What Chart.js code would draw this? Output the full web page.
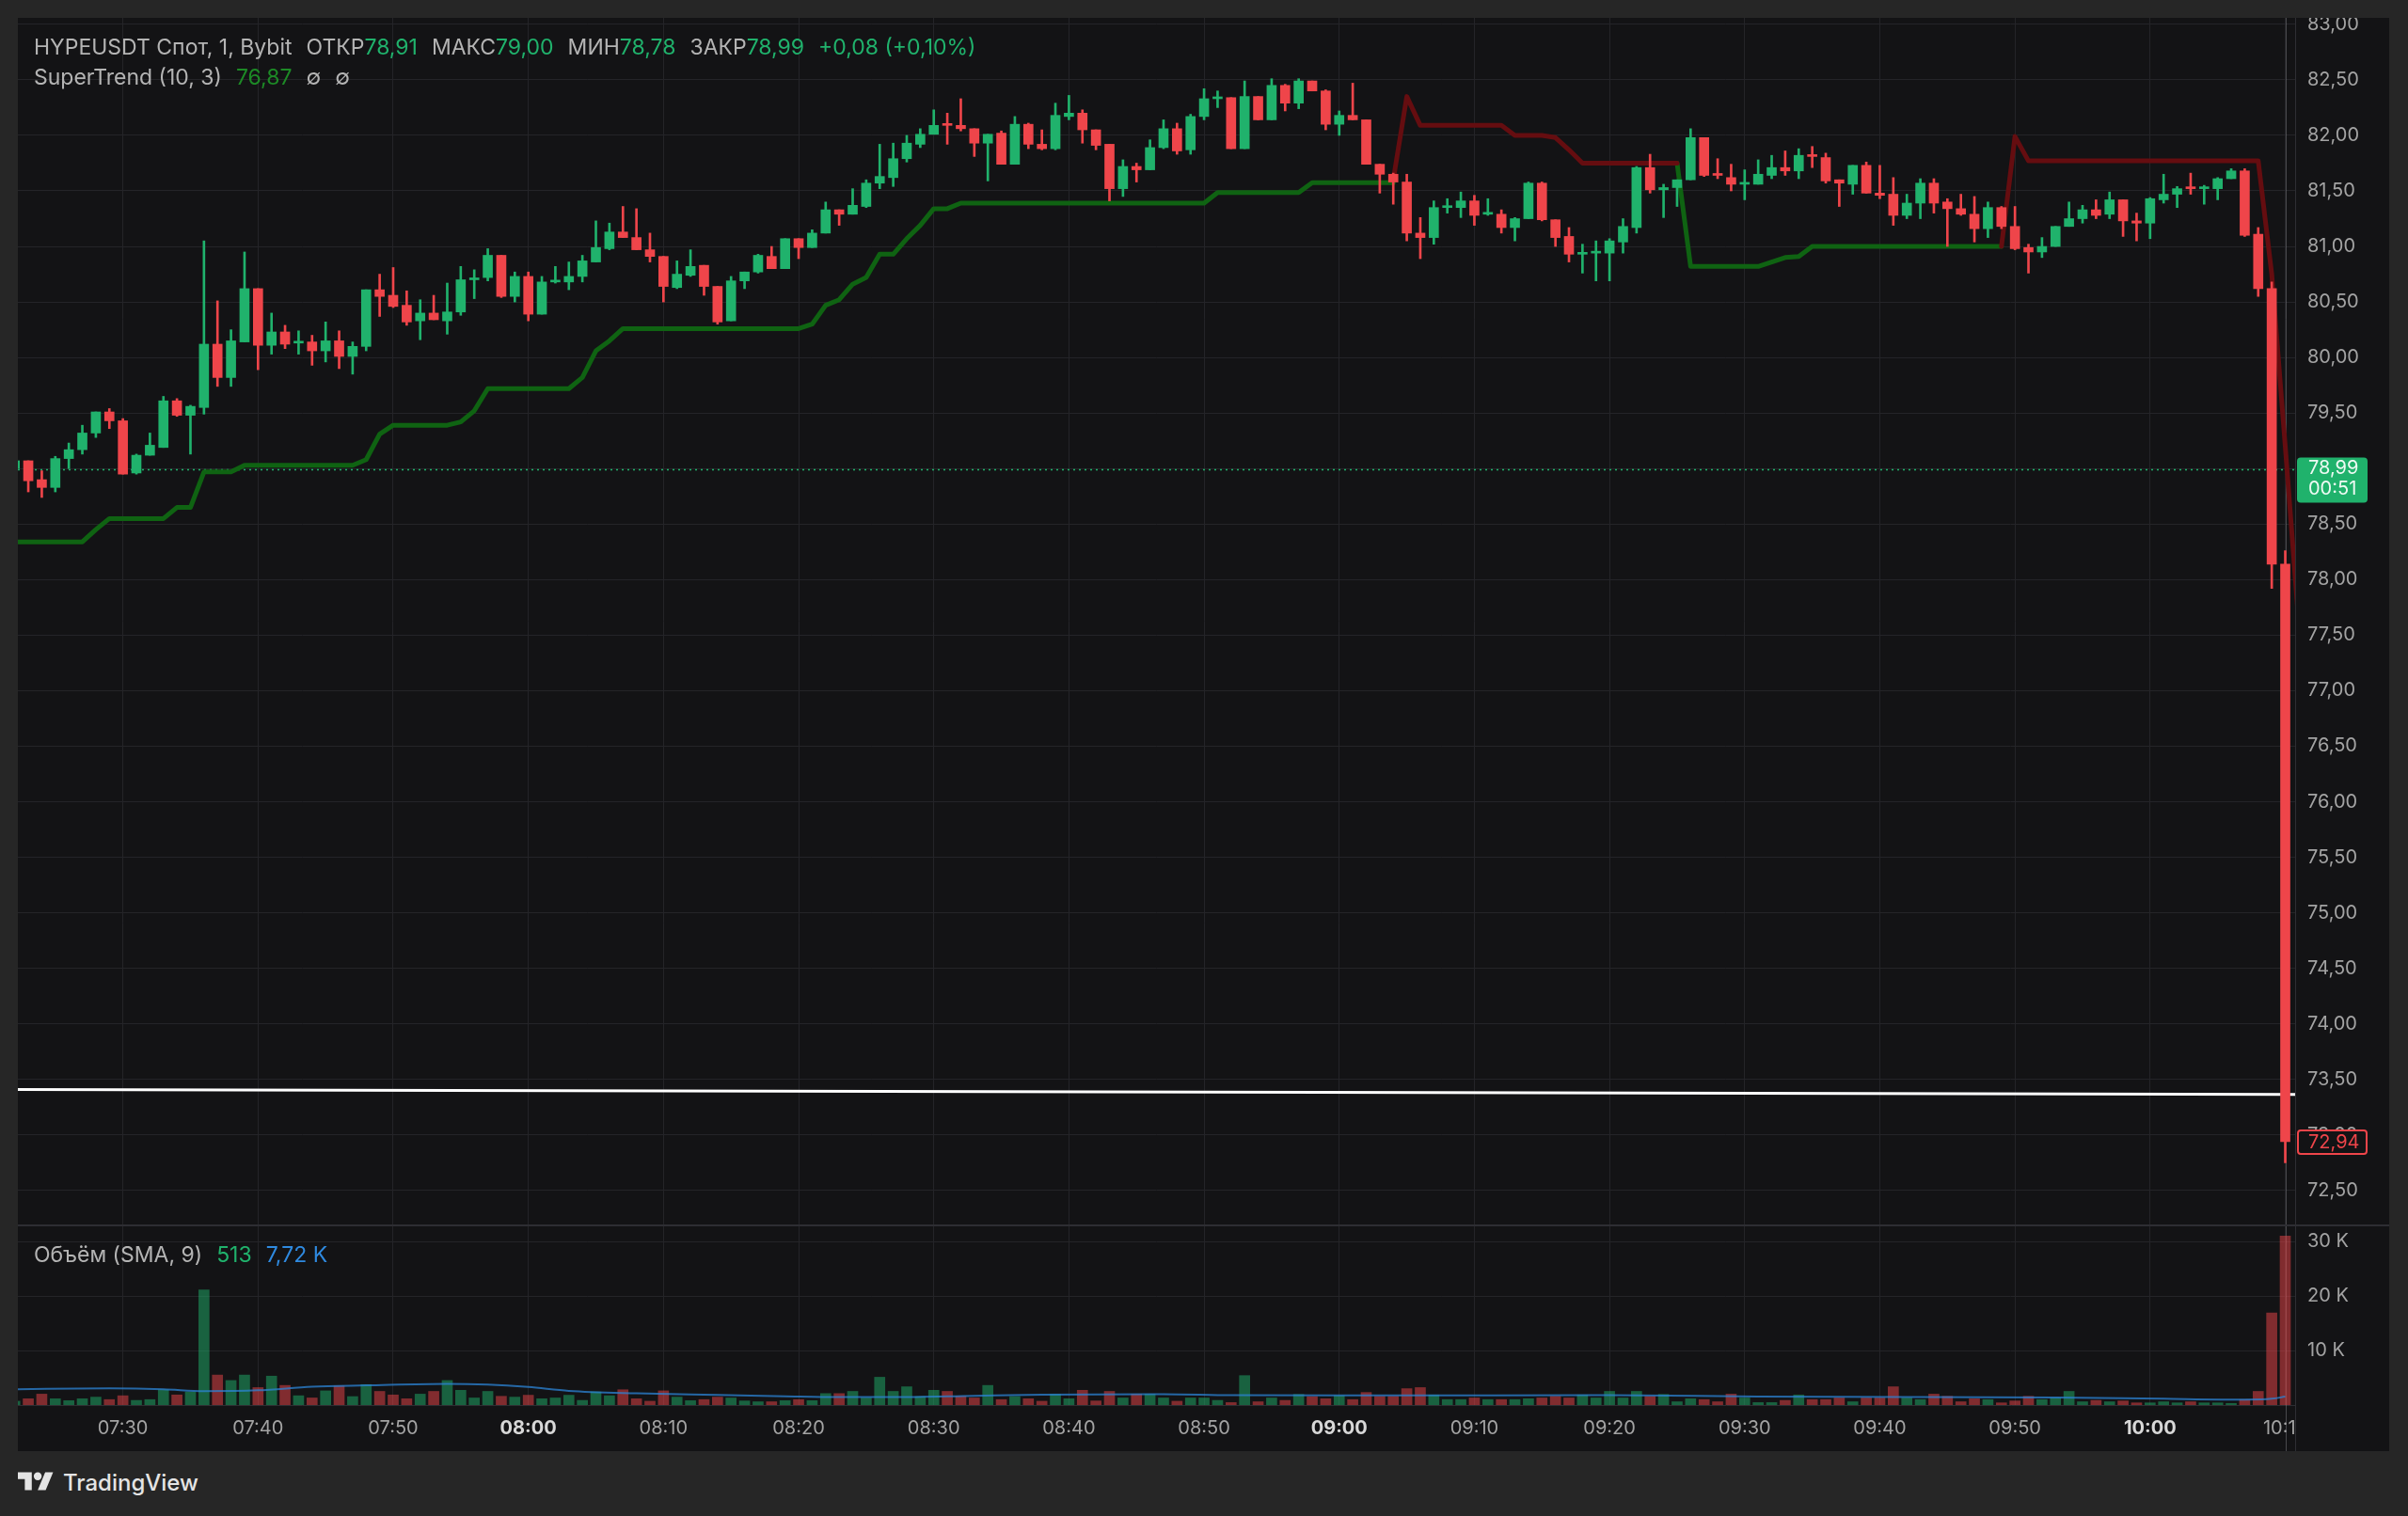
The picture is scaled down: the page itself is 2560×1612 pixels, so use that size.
<!DOCTYPE html>
<html lang="ru">
<head>
<meta charset="utf-8">
<title>HYPEUSDT</title>
<script src="https://cdn.jsdelivr.net/npm/chart.js@4.4.1/dist/chart.umd.min.js"></script>
<style>
  html, body { margin:0; padding:0; background:#262626; }
  body { width:2560px; height:1612px; position:relative; overflow:hidden; font-family: Inter, "Noto Sans", Roboto, sans-serif; }
  #panel { position:absolute; left:19px; top:19px; width:2521px; height:1524px; background:#131315; }
  canvas { position:absolute; display:block; }
  #cPrice { left:19px; top:19px; width:2521px; height:1283px; }
  #cVol { left:19px; top:1302px; width:2521px; height:241px; }
  .lg { position:absolute; left:36px; font-size:23px; line-height:26px; color:#b4b4b4; white-space:pre; }
  .lg span { display:inline-block; }
  .g { color:#20b26c; }
  .dg { color:#1d8a26; }
  .bl { color:#2f8ae0; }
  .sp { margin-left:15px; }
  #brand { position:absolute; left:19px; top:1561px; height:30px; display:flex; align-items:center; color:#e4e4e4; font-size:24px; font-weight:500; }
  #brand svg { margin-right:10px; }
</style>
</head>
<body>
<div id="panel"></div>
<canvas id="cPrice" width="2521" height="1283"></canvas>
<canvas id="cVol" width="2521" height="241"></canvas>
<div class="lg" id="lg1" style="top:37px"></div>
<div class="lg" id="lg2" style="top:69px"></div>
<div class="lg" id="lg3" style="top:1321px"></div>
<div id="brand"><svg width="38" height="30" viewBox="0 0 36 28"><path fill="#e4e4e4" d="M14 22H7V11H0V4h14v18zM28 22h-8l7.5-18h8L28 22z"/><circle fill="#e4e4e4" cx="20" cy="8" r="4"/></svg><span>TradingView</span></div>
<script>
// ---------------- DATA ----------------
const times = [
'07:22','07:23','07:24','07:25','07:26','07:27','07:28','07:29','07:30','07:31',
'07:32','07:33','07:34','07:35','07:36','07:37','07:38','07:39','07:40','07:41',
'07:42','07:43','07:44','07:45','07:46','07:47','07:48','07:49','07:50','07:51',
'07:52','07:53','07:54','07:55','07:56','07:57','07:58','07:59','08:00','08:01',
'08:02','08:03','08:04','08:05','08:06','08:07','08:08','08:09','08:10','08:11',
'08:12','08:13','08:14','08:15','08:16','08:17','08:18','08:19','08:20','08:21',
'08:22','08:23','08:24','08:25','08:26','08:27','08:28','08:29','08:30','08:31',
'08:32','08:33','08:34','08:35','08:36','08:37','08:38','08:39','08:40','08:41',
'08:42','08:43','08:44','08:45','08:46','08:47','08:48','08:49','08:50','08:51',
'08:52','08:53','08:54','08:55','08:56','08:57','08:58','08:59','09:00','09:01',
'09:02','09:03','09:04','09:05','09:06','09:07','09:08','09:09','09:10','09:11',
'09:12','09:13','09:14','09:15','09:16','09:17','09:18','09:19','09:20','09:21',
'09:22','09:23','09:24','09:25','09:26','09:27','09:28','09:29','09:30','09:31',
'09:32','09:33','09:34','09:35','09:36','09:37','09:38','09:39','09:40','09:41',
'09:42','09:43','09:44','09:45','09:46','09:47','09:48','09:49','09:50','09:51',
'09:52','09:53','09:54','09:55','09:56','09:57','09:58','09:59','10:00','10:01',
'10:02','10:03','10:04','10:05','10:06','10:07','10:08','10:09','10:10'];

const opens = [
79.00,79.07,78.90,78.83,79.09,79.17,79.32,79.51,79.43,78.96,
79.12,79.19,79.61,79.48,79.55,80.12,79.82,80.14,80.62,80.11,
80.23,80.13,80.14,80.06,80.15,80.01,80.10,80.61,80.56,80.47,
80.33,80.40,80.33,80.41,80.70,80.72,80.92,80.55,80.73,80.39,
80.68,80.68,80.73,80.86,80.98,81.13,81.08,80.97,80.91,80.63,
80.74,80.83,80.64,80.33,80.69,80.77,80.91,80.80,81.07,80.99,
81.12,81.33,81.29,81.36,81.57,81.62,81.79,81.92,82.01,82.10,
82.09,82.06,81.93,82.02,81.74,82.10,81.92,81.88,82.17,82.20,
82.05,81.92,81.52,81.72,81.69,81.89,82.06,81.87,82.17,82.33,
82.34,81.88,82.35,82.14,82.45,82.29,82.49,82.40,82.10,82.18,
82.14,81.74,81.65,81.58,81.12,81.08,81.35,81.35,81.41,81.29,
81.29,81.17,81.25,81.57,81.24,81.09,80.93,80.94,80.94,81.04,
81.17,81.71,81.51,81.53,81.60,81.98,81.65,81.62,81.56,81.56,
81.64,81.71,81.68,81.82,81.80,81.60,81.56,81.73,81.48,81.47,
81.28,81.39,81.57,81.40,81.34,81.29,81.16,81.35,81.18,80.99,
80.95,81.00,81.18,81.25,81.33,81.29,81.42,81.23,81.21,81.42,
81.47,81.53,81.52,81.52,81.61,81.68,81.11,80.62,78.14];

const highs = [
79.09,79.07,78.98,79.11,79.23,79.39,79.51,79.54,79.45,79.13,
79.32,79.65,79.63,79.57,81.05,80.51,80.25,80.95,80.62,80.40,
80.29,80.24,80.20,80.32,80.24,80.14,80.61,80.75,80.81,80.60,
80.52,80.56,80.67,80.82,80.79,80.98,80.92,80.77,80.77,80.73,
80.82,80.86,80.92,81.23,81.21,81.36,81.34,81.12,80.91,80.87,
80.97,80.83,80.64,80.73,80.77,80.93,81.00,81.07,81.07,81.15,
81.40,81.33,81.52,81.60,81.92,81.93,82.00,82.06,82.23,82.20,
82.33,82.06,82.01,82.04,82.17,82.11,82.05,82.29,82.36,82.23,
82.05,81.92,81.78,81.75,81.96,82.14,82.11,82.19,82.42,82.40,
82.34,82.49,82.35,82.51,82.46,82.51,82.49,82.41,82.22,82.47,
82.14,81.74,81.66,81.65,81.26,81.41,81.43,81.49,81.46,81.43,
81.33,81.26,81.58,81.58,81.24,81.17,81.02,81.05,81.07,81.25,
81.72,81.83,81.56,81.60,82.06,81.98,81.79,81.74,81.69,81.78,
81.82,81.86,81.88,81.90,81.84,81.60,81.73,81.76,81.73,81.62,
81.47,81.61,81.61,81.43,81.47,81.45,81.40,81.36,81.36,81.02,
81.08,81.18,81.40,81.37,81.42,81.49,81.42,81.30,81.44,81.65,
81.54,81.66,81.55,81.62,81.70,81.70,81.17,80.68,78.26];

const lows = [
78.98,78.79,78.74,78.79,79.00,79.13,79.28,79.36,78.95,78.95,
79.12,79.19,79.47,79.13,79.49,79.74,79.74,80.14,79.89,80.03,
80.08,80.03,79.93,79.96,79.90,79.85,80.06,80.37,80.45,80.29,
80.16,80.34,80.21,80.38,80.53,80.69,80.54,80.50,80.33,80.39,
80.67,80.61,80.68,80.86,80.97,81.08,80.97,80.86,80.50,80.62,
80.73,80.56,80.30,80.33,80.62,80.76,80.80,80.80,80.89,80.99,
81.12,81.19,81.29,81.35,81.52,81.54,81.76,81.89,82.01,81.92,
82.04,81.81,81.59,81.74,81.74,81.88,81.87,81.87,82.14,81.93,
81.87,81.41,81.45,81.58,81.69,81.88,81.83,81.83,82.14,82.25,
81.88,81.88,82.14,82.14,82.22,82.24,82.40,82.05,82.00,82.14,
81.74,81.48,81.38,81.05,80.89,81.02,81.30,81.26,81.19,81.28,
81.12,81.05,81.25,81.23,81.00,80.86,80.76,80.69,80.69,80.94,
81.12,81.48,81.26,81.36,81.60,81.63,81.61,81.50,81.42,81.56,
81.61,81.64,81.61,81.71,81.57,81.36,81.47,81.48,81.43,81.19,
81.25,81.25,81.30,81.00,81.28,81.04,81.08,81.16,80.97,80.76,
80.90,81.00,81.18,81.21,81.25,81.25,81.09,81.05,81.07,81.39,
81.35,81.47,81.38,81.42,81.61,81.09,80.55,77.92,72.75];

const closes = [
79.07,78.89,78.83,79.09,79.17,79.32,79.51,79.43,78.95,79.12,
79.21,79.61,79.48,79.56,80.12,79.82,80.15,80.62,80.11,80.23,
80.12,80.14,80.06,80.15,80.01,80.10,80.61,80.55,80.46,80.32,
80.40,80.34,80.41,80.70,80.71,80.92,80.55,80.73,80.39,80.68,
80.69,80.73,80.87,80.99,81.13,81.08,80.97,80.91,80.64,80.75,
80.82,80.64,80.32,80.69,80.77,80.92,80.80,81.07,80.99,81.12,
81.33,81.29,81.37,81.57,81.63,81.79,81.93,82.01,82.09,82.09,
82.06,81.93,82.01,81.74,82.10,81.92,81.88,82.18,82.20,82.05,
81.91,81.52,81.72,81.69,81.89,82.06,81.86,82.17,82.33,82.34,
81.88,82.35,82.14,82.45,82.29,82.49,82.40,82.10,82.18,82.14,
81.74,81.65,81.58,81.12,81.08,81.35,81.36,81.41,81.28,81.30,
81.17,81.25,81.57,81.24,81.08,80.93,80.94,80.95,81.05,81.18,
81.71,81.51,81.53,81.60,81.98,81.64,81.64,81.56,81.57,81.65,
81.71,81.68,81.82,81.81,81.59,81.57,81.73,81.48,81.46,81.28,
81.39,81.57,81.39,81.34,81.29,81.16,81.35,81.18,80.98,80.95,
81.00,81.18,81.25,81.33,81.28,81.42,81.23,81.21,81.43,81.47,
81.52,81.52,81.53,81.61,81.68,81.10,80.62,78.14,72.94];

const volumes = [
700,1150,2000,1150,800,1150,1450,1000,1700,850,
1000,2800,1850,2400,21100,5500,4500,5500,3200,5300,
3600,1700,1300,2600,3500,1550,3750,2500,1850,1150,
2000,2500,4500,2700,1300,2500,1600,1450,1800,1150,
1300,1800,850,2400,1700,2800,1150,700,2600,1450,
800,1000,1450,1300,750,600,600,800,1000,800,
2100,2100,2500,1300,5100,2500,3350,1550,2700,2500,
1600,1300,3600,1000,1550,1150,700,2000,1150,2700,
750,2500,1300,2000,2000,1300,700,1300,1300,850,
450,5400,600,1300,850,1950,1550,1150,1700,1000,
2300,1600,1600,3000,3200,1850,1000,1000,1300,1000,
1000,1000,1150,1300,1600,1300,1850,1300,2500,1300,
2500,1600,1950,600,1150,1000,600,2000,1300,450,
450,850,1850,1000,1000,1300,600,1300,1300,3350,
1300,1000,2000,1600,600,1150,1000,400,750,1600,
1000,1300,2500,600,850,600,750,400,400,600,
400,600,400,400,300,1000,2500,16900,31000];

// SuperTrend (10, 3): up-trend and down-trend lines, one value per candle
const superTrendUp = [
78.34,78.34,78.34,78.34,78.34,78.34,78.45,78.55,78.55,78.55,
78.55,78.55,78.65,78.65,78.97,78.97,78.97,79.03,79.03,79.03,
79.03,79.03,79.03,79.03,79.03,79.03,79.08,79.31,79.39,79.39,
79.39,79.39,79.39,79.42,79.52,79.72,79.72,79.72,79.72,79.72,
79.72,79.72,79.82,80.06,80.15,80.26,80.26,80.26,80.26,80.26,
80.26,80.26,80.26,80.26,80.26,80.26,80.26,80.26,80.26,80.30,
80.47,80.52,80.66,80.72,80.93,80.93,81.07,81.19,81.34,81.34,
81.39,81.39,81.39,81.39,81.39,81.39,81.39,81.39,81.39,81.39,
81.39,81.39,81.39,81.39,81.39,81.39,81.39,81.39,81.39,81.485,
81.485,81.485,81.485,81.485,81.485,81.485,81.575,81.575,81.575,81.575,
81.575,81.575,81.575,null,null,null,null,null,null,null,
null,null,null,null,null,null,null,null,null,null,
null,null,null,81.75,80.82,80.82,80.82,80.82,80.82,80.82,
80.86,80.90,80.91,81.00,81.00,81.00,81.00,81.00,81.00,81.00,
81.00,81.00,81.00,81.00,81.00,81.00,81.00,81.00,null,null,
null,null,null,null,null,null,null,null,null,null,
null,null,null,null,null,null,null,null,null];

const superTrendDown = [
null,null,null,null,null,null,null,null,null,null,
null,null,null,null,null,null,null,null,null,null,
null,null,null,null,null,null,null,null,null,null,
null,null,null,null,null,null,null,null,null,null,
null,null,null,null,null,null,null,null,null,null,
null,null,null,null,null,null,null,null,null,null,
null,null,null,null,null,null,null,null,null,null,
null,null,null,null,null,null,null,null,null,null,
null,null,null,null,null,null,null,null,null,null,
null,null,null,null,null,null,null,null,null,null,
null,null,81.60,82.35,82.09,82.09,82.09,82.09,82.09,82.09,
82.09,82.00,82.00,82.00,81.98,81.87,81.75,81.75,81.75,81.75,
81.75,81.75,81.75,81.75,null,null,null,null,null,null,
null,null,null,null,null,null,null,null,null,null,
null,null,null,null,null,null,null,81.00,81.99,81.77,
81.77,81.77,81.77,81.77,81.77,81.77,81.77,81.77,81.77,81.77,
81.77,81.77,81.77,81.77,81.77,81.77,81.77,80.75,79.20];
// the live (next) bar lies just beyond the right edge; its SuperTrend point continues the line
const superTrendDownNextTime = '10:11', superTrendDownNextValue = 77.60;

// Volume SMA (9) line, read at a few points along the curve
const smaTimes  = ['07:22','07:29','07:33','07:36','07:40','07:44','07:48','07:54','07:57','08:00','08:03','08:08','08:14','08:19','08:23','08:27','08:33','08:38','08:47','08:52','09:03','09:20','09:31','09:42','09:53','10:01','10:07','10:09','10:10'];
const smaValues = [2900,3060,2900,2550,2700,3350,3600,3900,3750,3300,2600,2150,1850,1600,1450,1450,1700,1900,2000,1800,1750,1800,1550,1450,1400,1150,1000,1150,1550];

// Drawn horizontal trend line (white) and price markers
const trendLineTimes  = ['07:22','10:11'];
const trendLineValues = [73.41, 73.365];
const lastPrice = 78.99, lastPriceText = '78,99', countdownText = '00:51';
const markPrice = 72.94, markPriceText = '72,94';
const crosshairTime = '10:10';

// Axes
const priceTicks = [72.5,73,73.5,74,74.5,75,75.5,76,76.5,77,77.5,78,78.5,79,79.5,80,80.5,81,81.5,82,82.5,83];
const volumeTicks = [10000,20000,30000];
const volumeTickLabels = ['10 K','20 K','30 K'];
const timeTickLabels = ['07:30','07:40','07:50','08:00','08:10','08:20','08:30','08:40','08:50','09:00','09:10','09:20','09:30','09:40','09:50','10:00','10:10'];

// Legend texts
const headerTitle = 'HYPEUSDT Спот, 1, Bybit';
const ohlcLabels = ['ОТКР','МАКС','МИН','ЗАКР'];
const ohlcValues = ['78,91','79,00','78,78','78,99'];
const changeText = '+0,08 (+0,10%)';
const stTitle = 'SuperTrend (10, 3)', stValue = '76,87';
const volTitle = 'Объём (SMA, 9)', volValue = '513', volSmaText = '7,72 K';

// ---------------- STYLE ----------------
const UP = '#20b26c', DOWN = '#ef454a';
const UP_VOL = 'rgba(32,178,108,0.5)', DOWN_VOL = 'rgba(239,69,74,0.5)';
const PANEL_BG = '#131315', GRID = '#242428', SEP = '#2e2e33';
const TXT = '#a3a3a3', TXT_BOLD = '#d8d8d8';
const FONT = 'Inter';
const AXIS_FONT_SIZE = 20;

// ---------------- HELPERS ----------------
const toMin = s => parseInt(s.slice(0,2),10)*60 + parseInt(s.slice(3),10);
const xs = times.map(toMin);
const X_MIN = 442.23, X_MAX = 610.73;
const timeTickValues = timeTickLabels.map(toMin);
const isUp = i => closes[i] >= opens[i];

// legends
document.getElementById('lg1').innerHTML =
  `<span>${headerTitle}</span>` +
  ohlcLabels.map((l,i)=>`<span class="sp">${l}<span class="g">${ohlcValues[i]}</span></span>`).join('') +
  `<span class="sp g">${changeText}</span>`;
document.getElementById('lg2').innerHTML =
  `<span>${stTitle}</span><span class="sp dg">${stValue}</span><span class="sp">∅</span><span class="sp">∅</span>`;
document.getElementById('lg3').innerHTML =
  `<span>${volTitle}</span><span class="sp g">${volValue}</span><span class="sp bl">${volSmaText}</span>`;

Chart.defaults.font.family = FONT;
Chart.defaults.color = TXT;

function zeroPad(s){ s.paddingTop = 0; s.paddingBottom = 0; s.paddingLeft = 0; s.paddingRight = 0; }

const priceOverlay = {
  id: 'priceOverlay',
  beforeDatasetsDraw(chart) {
    const {ctx, chartArea, scales:{x}} = chart;
    const px = Math.round(x.getPixelForValue(toMin(crosshairTime))) + 0.5;
    ctx.save();
    ctx.strokeStyle = 'rgba(140,140,146,0.45)'; ctx.lineWidth = 1;
    ctx.beginPath(); ctx.moveTo(px, chartArea.top); ctx.lineTo(px, chartArea.bottom); ctx.stroke();
    ctx.restore();
  },
  afterDraw(chart) {
    const {ctx, scales:{y}} = chart;
    ctx.save();
    ctx.font = `${AXIS_FONT_SIZE}px ${FONT}`; ctx.textAlign = 'left'; ctx.textBaseline = 'middle';
    const yl = y.getPixelForValue(lastPrice);
    ctx.fillStyle = UP;
    ctx.beginPath(); ctx.roundRect(y.left + 2, yl - 13, 75, 48, 4); ctx.fill();
    ctx.fillStyle = '#eefaf3';
    ctx.fillText(lastPriceText, y.left + 14, yl - 1);
    ctx.fillText(countdownText, y.left + 14, yl + 21);
    const yr = y.getPixelForValue(markPrice);
    ctx.fillStyle = PANEL_BG; ctx.strokeStyle = DOWN; ctx.lineWidth = 2;
    ctx.beginPath(); ctx.roundRect(y.left + 3, yr - 12, 73, 25, 3); ctx.fill(); ctx.stroke();
    ctx.fillStyle = DOWN;
    ctx.fillText(markPriceText, y.left + 14, yr + 1);
    ctx.restore();
  }
};

const volOverlay = {
  id: 'volOverlay',
  beforeDatasetsDraw(chart) {
    const {ctx, scales:{x}} = chart;
    const px = Math.round(x.getPixelForValue(toMin(crosshairTime))) + 0.5;
    ctx.save();
    ctx.strokeStyle = 'rgba(140,140,146,0.45)'; ctx.lineWidth = 1;
    ctx.beginPath(); ctx.moveTo(px, 0); ctx.lineTo(px, chart.height); ctx.stroke();
    ctx.restore();
  },
  afterDraw(chart) {
    const {ctx, chartArea, scales:{x}} = chart;
    ctx.save();
    ctx.fillStyle = PANEL_BG;
    ctx.fillRect(chartArea.right + 1, x.top + 1, chart.width - chartArea.right, chart.height - x.top);
    ctx.fillStyle = SEP;
    ctx.fillRect(chartArea.right, x.top, 1, chart.height - x.top);
    ctx.fillRect(0, 0, chart.width, 2);
    ctx.restore();
  }
};

const stDownData = xs.map((x,i)=>({x, y:superTrendDown[i]}));
stDownData.push({x: toMin(superTrendDownNextTime), y: superTrendDownNextValue});

// ---------------- PRICE CHART ----------------
new Chart(document.getElementById('cPrice'), {
  type: 'bar',
  data: {
    datasets: [
      { type:'line', label:'trendline', order:6,
        data: trendLineTimes.map((t,i)=>({x:toMin(t), y:trendLineValues[i]})),
        borderColor:'#ffffff', borderWidth:3, pointRadius:0 },
      { type:'line', label:'last', order:5,
        data: [{x:X_MIN, y:lastPrice},{x:X_MAX, y:lastPrice}],
        borderColor:UP, borderWidth:1.5, borderDash:[2,4], pointRadius:0 },
      { type:'line', label:'SuperTrend up', order:4,
        data: xs.map((x,i)=>({x, y:superTrendUp[i]})),
        borderColor:'#0f6312', borderWidth:5, pointRadius:0, spanGaps:false,
        borderJoinStyle:'round', borderCapStyle:'round' },
      { type:'line', label:'SuperTrend down', order:3,
        data: stDownData,
        borderColor:'#650d10', borderWidth:5, pointRadius:0, spanGaps:false,
        borderJoinStyle:'round', borderCapStyle:'round' },
      { label:'wick', order:2, grouped:false, barThickness:2, borderWidth:0,
        data: xs.map((x,i)=>({x, y:[lows[i], highs[i]]})),
        backgroundColor: ctx => isUp(ctx.dataIndex) ? UP : DOWN },
      { label:'body', order:1, grouped:false, barThickness:10, borderWidth:0, minBarLength:2,
        data: xs.map((x,i)=>({x, y:[opens[i], closes[i]]})),
        backgroundColor: ctx => isUp(ctx.dataIndex) ? UP : DOWN }
    ]
  },
  options: {
    responsive:false, animation:false, events:[],
    layout:{ padding:0 },
    plugins:{ legend:{display:false}, tooltip:{enabled:false} },
    scales: {
      x: { type:'linear', min:X_MIN, max:X_MAX, offset:false,
        afterBuildTicks: ax => { ax.ticks = timeTickValues.map(v=>({value:v})); },
        afterFit: s => { s.height = 0; zeroPad(s); },
        ticks:{ display:false },
        grid:{ color:GRID, drawTicks:false, offset:false },
        border:{ display:false } },
      y: { type:'linear', position:'right', min:72.194, max:83.058,
        afterBuildTicks: ax => { ax.ticks = priceTicks.map(v=>({value:v})); },
        afterFit: s => { s.width = 100; zeroPad(s); },
        ticks:{ color:TXT, font:{size:AXIS_FONT_SIZE}, padding:13, callback: v => v.toFixed(2).replace('.', ',') },
        grid:{ color:GRID, drawTicks:false },
        border:{ display:true, color:SEP } }
    }
  },
  plugins:[priceOverlay]
});

// ---------------- VOLUME CHART ----------------
new Chart(document.getElementById('cVol'), {
  type: 'bar',
  data: {
    datasets: [
      { type:'line', label:'Volume SMA', order:0,
        data: smaTimes.map((t,i)=>({x:toMin(t), y:smaValues[i]})),
        borderColor:'rgba(44,132,214,0.75)', borderWidth:2, pointRadius:0, tension:0.4, cubicInterpolationMode:'monotone' },
      { label:'Volume', order:1, grouped:false, barThickness:11, borderWidth:0,
        data: xs.map((x,i)=>({x, y:volumes[i]})),
        backgroundColor: ctx => isUp(ctx.dataIndex) ? UP_VOL : DOWN_VOL }
    ]
  },
  options: {
    responsive:false, animation:false, events:[],
    layout:{ padding:{ top:2 } },
    plugins:{ legend:{display:false}, tooltip:{enabled:false} },
    scales: {
      x: { type:'linear', min:X_MIN, max:X_MAX, offset:false,
        afterBuildTicks: ax => { ax.ticks = timeTickValues.map(v=>({value:v})); },
        afterFit: s => { s.height = 49; zeroPad(s); },
        ticks:{ autoSkip:false, maxRotation:0, padding:13,
          color: c => (c.tick && c.tick.value % 60 === 0) ? TXT_BOLD : TXT,
          font: c => ({ size:AXIS_FONT_SIZE, weight: (c.tick && c.tick.value % 60 === 0) ? 'bold' : 'normal' }),
          callback: v => timeTickLabels[timeTickValues.indexOf(v)] },
        grid:{ color:GRID, drawTicks:false, offset:false },
        border:{ display:true, color:SEP } },
      y: { type:'linear', position:'right', min:0, max:32760,
        afterBuildTicks: ax => { ax.ticks = volumeTicks.map(v=>({value:v})); },
        afterFit: s => { s.width = 100; zeroPad(s); },
        ticks:{ color:TXT, font:{size:AXIS_FONT_SIZE}, padding:13, callback: v => volumeTickLabels[volumeTicks.indexOf(v)] },
        grid:{ color:GRID, drawTicks:false },
        border:{ display:true, color:SEP } }
    }
  },
  plugins:[volOverlay]
});
</script>
</body>
</html>
